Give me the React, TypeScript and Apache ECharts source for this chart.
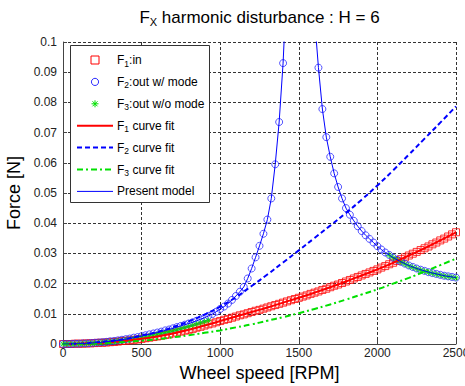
import React, { useEffect, useRef } from 'react';
import * as echarts from 'echarts';

// Wheel speed sample grid [RPM]
const rpm = [0,25,50,75,100,125,150,175,200,225,250,275,300,325,350,375,400,425,450,475,500,525,550,575,600,625,650,675,700,725,750,775,800,825,850,875,900,925,950,975,1000,1025,1050,1075,1100,1125,1150,1175,1200,1225,1250,1275,1300,1325,1350,1375,1400,1425,1450,1475,1500,1525,1550,1575,1600,1625,1650,1675,1700,1725,1750,1775,1800,1825,1850,1875,1900,1925,1950,1975,2000,2025,2050,2075,2100,2125,2150,2175,2200,2225,2250,2275,2300,2325,2350,2375,2400,2425,2450,2475,2500];

// F1 : in (red squares), one value per rpm entry
const f1In = [
  0.0000,0.0000,0.0000,0.0001,0.0001,0.0001,0.0002,0.0002,0.0003,0.0004,
  0.0004,0.0005,0.0006,0.0007,0.0008,0.0010,0.0011,0.0012,0.0014,0.0015,
  0.0017,0.0019,0.0021,0.0023,0.0025,0.0027,0.0030,0.0032,0.0035,0.0038,
  0.0041,0.0044,0.0047,0.0050,0.0054,0.0057,0.0061,0.0065,0.0068,0.0072,
  0.0076,0.0080,0.0083,0.0087,0.0091,0.0095,0.0098,0.0102,0.0106,0.0110,
  0.0113,0.0117,0.0121,0.0125,0.0129,0.0133,0.0137,0.0141,0.0145,0.0149,
  0.0153,0.0157,0.0161,0.0166,0.0170,0.0174,0.0179,0.0183,0.0188,0.0193,
  0.0197,0.0202,0.0207,0.0212,0.0217,0.0222,0.0227,0.0232,0.0237,0.0242,
  0.0247,0.0253,0.0258,0.0264,0.0269,0.0275,0.0281,0.0287,0.0293,0.0299,
  0.0305,0.0311,0.0317,0.0323,0.0330,0.0336,0.0343,0.0349,0.0356,0.0363,
  0.0370
];

// F2 : out w/ mode (blue circles), below resonance: rpm 0..1400
const f2OutLeft = [
  0.0000,0.0000,0.0000,0.0001,0.0001,0.0002,0.0002,0.0003,0.0004,0.0005,
  0.0006,0.0007,0.0009,0.0010,0.0012,0.0014,0.0016,0.0018,0.0021,0.0023,
  0.0026,0.0029,0.0032,0.0035,0.0038,0.0041,0.0045,0.0048,0.0052,0.0056,
  0.0060,0.0064,0.0068,0.0072,0.0077,0.0082,0.0087,0.0093,0.0099,0.0107,
  0.0116,0.0124,0.0134,0.0146,0.0159,0.0173,0.0189,0.0217,0.0250,0.0287,
  0.0325,0.0365,0.0412,0.0482,0.0595,0.0735,0.0930
];
// above resonance: rpm 1625..2500
const f2OutRight = [
  0.0915,0.0778,0.0685,0.0620,0.0565,0.0520,0.0482,0.0450,0.0428,0.0408,
  0.0390,0.0374,0.0360,0.0348,0.0336,0.0324,0.0313,0.0303,0.0295,0.0286,
  0.0279,0.0272,0.0266,0.0260,0.0255,0.0250,0.0246,0.0242,0.0238,0.0235,
  0.0232,0.0229,0.0226,0.0224,0.0222,0.0220
];
// present model around the resonance peak (off scale)
const peakRpm = [1425,1450,1475,1500,1525,1550,1575,1600];
const peakModel = [0.121,0.175,0.32,0.9,0.7,0.26,0.155,0.108];

// F3 : out w/o mode (green stars): rpm 0..925 and 2075..2500
const f3OutLow = [
  0.0000,0.0000,0.0000,0.0000,0.0001,0.0001,0.0002,0.0002,0.0003,0.0004,
  0.0005,0.0006,0.0007,0.0008,0.0010,0.0011,0.0013,0.0015,0.0017,0.0019,
  0.0021,0.0024,0.0026,0.0029,0.0032,0.0035,0.0038,0.0041,0.0044,0.0047,
  0.0051,0.0054,0.0058,0.0062,0.0066,0.0070,0.0074,0.0078
];
const f3OutHigh = [
  0.0294,0.0286,0.0278,0.0272,0.0265,0.0259,0.0254,0.0249,0.0245,0.0241,
  0.0237,0.0234,0.0231,0.0228,0.0225,0.0223,0.0221,0.0219
];

// curve fits
const fitRpm = [0,100,200,300,400,500,600,700,800,900,1000,1100,1200,1300,1400,1500,1600,1700,1800,1900,2000,2100,2200,2300,2400,2500];
const f1Fit = [0,0.0001,0.0003,0.0006,0.0011,0.0017,0.0025,0.0035,0.0047,0.0061,0.0076,0.0091,0.0106,0.0121,0.0137,0.0153,0.0170,0.0188,0.0207,0.0227,0.0247,0.0269,0.0293,0.0317,0.0343,0.0370];
const f2Fit = [0,0.0001,0.0005,0.0010,0.0017,0.0028,0.0040,0.0056,0.0075,0.0097,0.0124,0.0155,0.0192,0.0230,0.0270,0.0310,0.0351,0.0392,0.0434,0.0478,0.0525,0.0575,0.0627,0.0680,0.0733,0.0787];
const f3Fit = [0,0.0000,0.0002,0.0004,0.0007,0.0011,0.0016,0.0022,0.0029,0.0037,0.0045,0.0055,0.0065,0.0077,0.0089,0.0102,0.0116,0.0131,0.0147,0.0164,0.0181,0.0200,0.0219,0.0240,0.0261,0.0283];

const xTicks = { min: 0, max: 2500, interval: 500 };
const yTicks = { min: 0, max: 0.1, interval: 0.01 };

const names = ['F1:in', 'F2:out w/ mode', 'F3:out w/o mode', 'F1 curve fit', 'F2 curve fit', 'F3 curve fit', 'Present model'];

const pair = (xs: number[], ys: number[]) => ys.map((y, i) => [xs[i], y]);

export default function App() {
  const ref = useRef<HTMLDivElement>(null);
  useEffect(() => {
    const chart = echarts.init(ref.current!, null, { renderer: 'svg' });
    const font = '"Liberation Sans", Arial, Helvetica, sans-serif';
    const red = '#ff0000';
    const blue = '#0000ff';
    const circleBlue = '#2a2aff';
    const green = '#00e000';

    const leftRpm = rpm.slice(0, f2OutLeft.length);
    const rightRpm = rpm.slice(rpm.length - f2OutRight.length);
    const f2Data = [...pair(leftRpm, f2OutLeft), ...pair(rightRpm, f2OutRight)];
    const modelData = [...pair(leftRpm, f2OutLeft), ...pair(peakRpm, peakModel), ...pair(rightRpm, f2OutRight)];
    const f3Data = [
      ...pair(rpm.slice(0, f3OutLow.length), f3OutLow),
      ...pair(rpm.slice(rpm.length - f3OutHigh.length), f3OutHigh),
    ];
    const star = 'path://M3,0 L3,6 M0,3 L6,3 M0.9,0.9 L5.1,5.1 M5.1,0.9 L0.9,5.1';

    const axisCommon = {
      axisLine: { show: true, onZero: false, lineStyle: { color: '#444', width: 1 } },
      axisTick: { show: true, inside: true, length: 4, lineStyle: { color: '#444' } },
      splitLine: { show: true, lineStyle: { color: '#333', type: [3, 2], width: 1 } },
    };

    // hand-drawn legend (MATLAB style)
    const lgX = 70, lgY = 45, lgW = 139, lgH = 157;
    const rowY = (i: number) => 60 + 21.9 * i;
    const iconL = 77, iconR = 113, iconC = 95;
    const legendEls: any[] = [
      {
        type: 'rect', z: 100,
        shape: { x: lgX + 0.5, y: lgY + 0.5, width: lgW, height: lgH },
        style: { fill: '#fff', stroke: '#333', lineWidth: 1 },
      },
    ];
    const lineIcon = (i: number, color: string, width: number, dash?: number[]) => ({
      type: 'line', z: 101,
      shape: { x1: iconL, y1: rowY(i), x2: iconR, y2: rowY(i) },
      style: { stroke: color, lineWidth: width, lineDash: dash },
    });
    legendEls.push({
      type: 'rect', z: 101,
      shape: { x: iconC - 4, y: rowY(0) - 4, width: 8, height: 8 },
      style: { fill: 'none', stroke: red, lineWidth: 1 },
    });
    legendEls.push({
      type: 'circle', z: 101,
      shape: { cx: iconC, cy: rowY(1), r: 3.6 },
      style: { fill: 'none', stroke: circleBlue, lineWidth: 1 },
    });
    const sy = rowY(2);
    [[0, -3.5, 0, 3.5], [-3.5, 0, 3.5, 0], [-2.5, -2.5, 2.5, 2.5], [2.5, -2.5, -2.5, 2.5]].forEach((s) => {
      legendEls.push({
        type: 'line', z: 101,
        shape: { x1: iconC + s[0], y1: sy + s[1], x2: iconC + s[2], y2: sy + s[3] },
        style: { stroke: green, lineWidth: 1 },
      });
    });
    legendEls.push(lineIcon(3, red, 2));
    legendEls.push(lineIcon(4, blue, 2, [5, 3]));
    legendEls.push(lineIcon(5, green, 2, [6, 3, 2, 3]));
    legendEls.push(lineIcon(6, blue, 1));
    names.forEach((n, i) => {
      legendEls.push({
        type: 'text', z: 101,
        x: 117, y: rowY(i),
        style: {
          text: n.replace(/^F(\d)/, 'F{s|$1}'),
          fontSize: 12, lineHeight: 16, fontFamily: font, fill: '#000',
          textAlign: 'left', textVerticalAlign: 'middle',
          rich: { s: { fontSize: 8.5, lineHeight: 4, verticalAlign: 'bottom', fontFamily: font, fill: '#000' } },
        },
      });
    });

    chart.setOption({
      animation: false,
      textStyle: { fontFamily: font },
      grid: { left: 63, right: 9, top: 42, bottom: 42, containLabel: false, outerBoundsMode: 'none' },
      graphic: [
        {
          type: 'text',
          x: 259.5,
          y: 7,
          style: {
            text: 'F{s|X} harmonic disturbance : H = 6',
            fontSize: 17,
            lineHeight: 20,
            fontFamily: font,
            fill: '#000',
            textAlign: 'center',
            textVerticalAlign: 'top',
            rich: { s: { fontSize: 11, lineHeight: 6, verticalAlign: 'bottom', fontFamily: font } },
          },
        },
        ...legendEls,
      ],
      xAxis: {
        type: 'value',
        ...xTicks,
        name: 'Wheel speed [RPM]',
        nameLocation: 'middle',
        nameGap: 20,
        nameTextStyle: { fontSize: 18, color: '#000', fontFamily: font },
        axisLabel: { fontSize: 12, color: '#222', margin: 3, fontFamily: font, formatter: (v: number) => String(v) },
        ...axisCommon,
      },
      yAxis: {
        type: 'value',
        ...yTicks,
        name: 'Force [N]',
        nameLocation: 'middle',
        nameGap: 35,
        nameTextStyle: { fontSize: 18, color: '#000', fontFamily: font },
        axisLabel: {
          fontSize: 12, color: '#222', margin: 6, fontFamily: font,
          formatter: (v: number) => String(Math.round(v * 100) / 100),
        },
        ...axisCommon,
      },
      series: [
        {
          name: names[0], type: 'scatter', data: pair(rpm, f1In),
          symbol: 'rect', symbolSize: 7,
          itemStyle: { color: 'rgba(0,0,0,0)', borderColor: red, borderWidth: 1 },
        },
        {
          name: names[1], type: 'scatter', data: f2Data,
          symbol: 'circle', symbolSize: 7,
          itemStyle: { color: 'rgba(0,0,0,0)', borderColor: circleBlue, borderWidth: 1 },
        },
        {
          name: names[2], type: 'scatter', data: f3Data,
          symbol: star, symbolSize: 6, symbolKeepAspect: true,
          itemStyle: { color: 'rgba(0,0,0,0)', borderColor: green, borderWidth: 1 },
        },
        {
          name: names[3], type: 'line', data: pair(fitRpm, f1Fit), smooth: true,
          symbol: 'none', itemStyle: { color: red }, lineStyle: { color: red, width: 2 },
        },
        {
          name: names[4], type: 'line', data: pair(fitRpm, f2Fit), smooth: true,
          symbol: 'none', itemStyle: { color: blue }, lineStyle: { color: blue, width: 2, type: [5, 3] },
        },
        {
          name: names[5], type: 'line', data: pair(fitRpm, f3Fit), smooth: true,
          symbol: 'none', itemStyle: { color: green }, lineStyle: { color: green, width: 2, type: [6, 3, 2, 3] },
        },
        {
          name: names[6], type: 'line', data: modelData, smooth: false, clip: true,
          symbol: 'none', itemStyle: { color: blue }, lineStyle: { color: blue, width: 1 },
        },
      ],
    });
    return () => chart.dispose();
  }, []);
  return (
    <div
      ref={ref}
      style={{ position: 'fixed', left: 0, top: 0, width: 465, height: 386, background: '#fff' }}
    />
  );
}
